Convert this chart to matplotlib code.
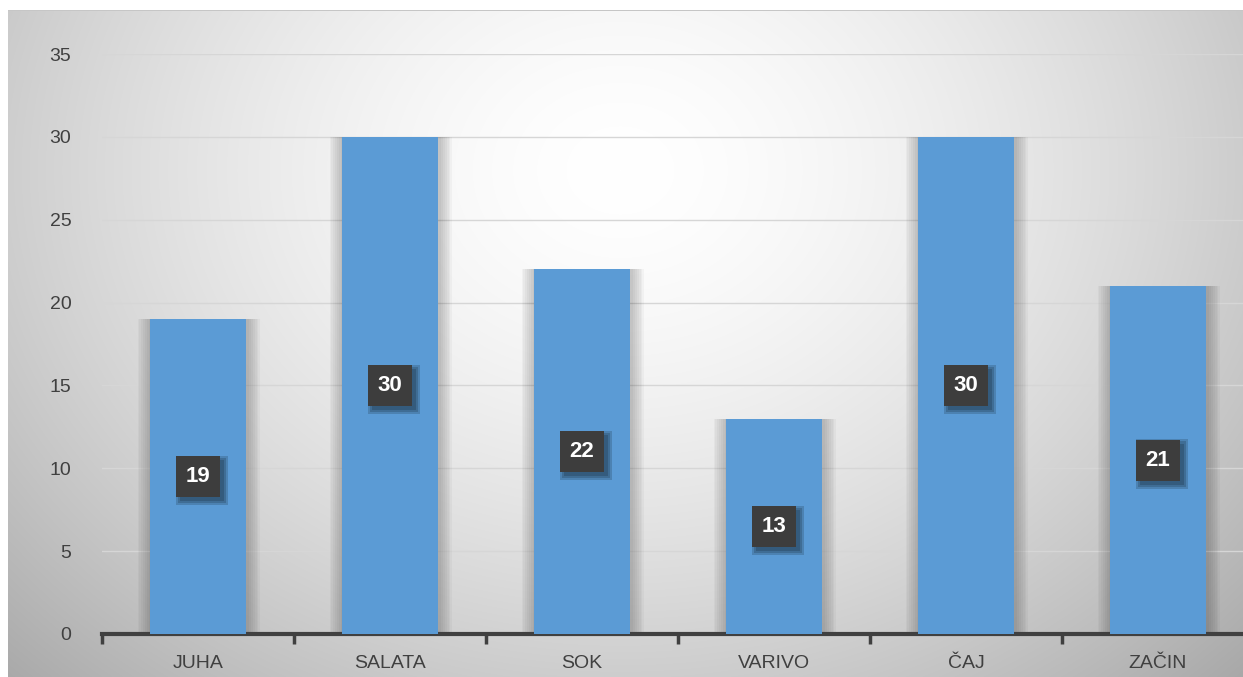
import matplotlib
matplotlib.use("Agg")
import matplotlib.pyplot as plt
from matplotlib.patches import Rectangle
import numpy as np

categories = ["JUHA", "SALATA", "SOK", "VARIVO", "ČAJ", "ZAČIN"]
values = [19, 30, 22, 13, 30, 21]
yticks = [0, 5, 10, 15, 20, 25, 30, 35]

W, H = 1243, 677
fig = plt.figure(figsize=(W / 100, H / 100), dpi=100)
plt.rcParams['font.family'] = ['Liberation Sans', 'DejaVu Sans']

# background with radial gradient
bg = fig.add_axes([0, 0, 1, 1])
yy, xx = np.mgrid[0:H, 0:W]
r = np.sqrt(((xx - 620) / 760.0) ** 2 + ((yy - 170) / 620.0) ** 2)
shade = 1.0 - 0.27 * np.clip(r, 0, 1.3) ** 1.6
img = np.dstack([shade, shade, shade])
img[:10, :, :] = 1.0
img[:, :8, :] = 1.0
img[10, 8:, :] = 0.78
bg.imshow(img, aspect='auto', extent=[0, W, H, 0], interpolation='bilinear')
bg.set_xlim(0, W)
bg.set_ylim(H, 0)
bg.axis('off')

# main axes: x from -0.5 at px 102, 192 px per category
left_px, bottom_px, top_px = 102, 677 - 634, 677 - 54
x_right = left_px + 192 * 6
ax = fig.add_axes([left_px / W, bottom_px / H, (x_right - left_px) / W, (top_px - bottom_px) / H])
ax.patch.set_alpha(0)

x = np.arange(len(categories))

# soft shadow behind bars
for k in range(7):
    ax.bar(x + 0.005, values, width=0.5 + 0.02 * (k + 1), color='black',
           alpha=0.03, zorder=1, linewidth=0)
ax.bar(x, values, width=0.5, color='#5b9bd5', zorder=3, linewidth=0)

# data label boxes (size in pixels converted to data units)
bw = 44 / 192.0
bh = 41 / ((634 - 54) / 35.0)
dx = 4 / 192.0
dy = 4 / ((634 - 54) / 35.0)
for xi, v in zip(x, values):
    for k in range(3):
        grow = k * 2
        ax.add_patch(Rectangle((xi - bw / 2 + dx - grow / 192.0, v / 2 - bh / 2 - dy - grow / 16.57),
                               bw + 2 * grow / 192.0, bh + 2 * grow / 16.57,
                               fc='black', alpha=0.16, ec='none', zorder=4))
    ax.add_patch(Rectangle((xi - bw / 2, v / 2 - bh / 2), bw, bh,
                           fc='#3d3d3d', ec='none', zorder=5))
    ax.text(xi, v / 2, str(v), ha='center', va='center', fontsize=16, fontweight='bold',
            color='white', zorder=6)

ax.set_xlim(-0.5, 5.5)
ax.set_ylim(0, 35)
ax.set_yticks(yticks)
ax.yaxis.grid(True, color='#d6d6d6', linewidth=1.0, zorder=0)
ax.set_axisbelow(True)

ax.set_xticks(x)
ax.set_xticklabels(categories)
ax.set_xticks(np.arange(-0.5, 6.0, 1.0), minor=True)
ax.tick_params(axis='x', which='major', length=0, pad=15, labelsize=14, labelcolor='#404040')
ax.tick_params(axis='x', which='minor', length=7, width=2.5, color='#404040', direction='out')
ax.tick_params(axis='y', length=0, pad=22, labelsize=14, labelcolor='#404040')

for s in ['top', 'right', 'left']:
    ax.spines[s].set_visible(False)
ax.spines['bottom'].set_color('#404040')
ax.spines['bottom'].set_linewidth(3)

fig.savefig("out.png", dpi=100)
